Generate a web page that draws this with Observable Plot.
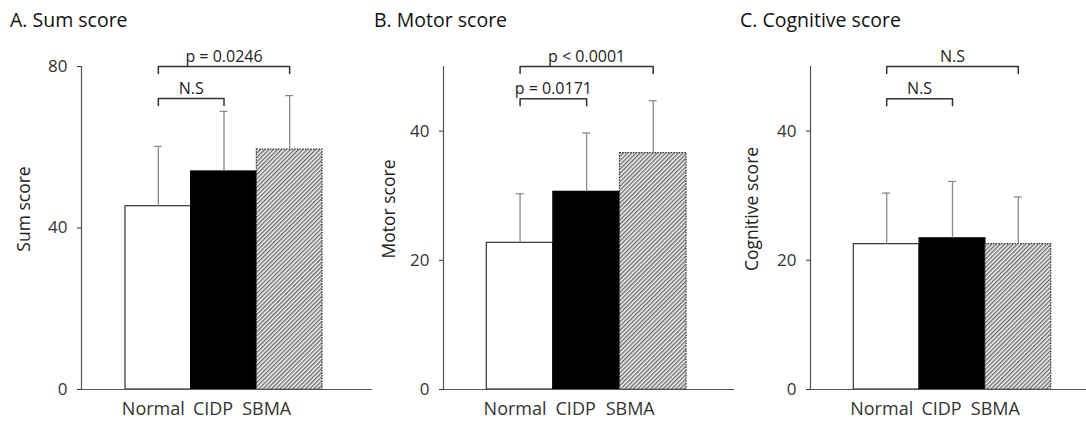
<!DOCTYPE html>
<html><head><meta charset="utf-8">
<script src="https://cdn.jsdelivr.net/npm/d3@7"></script>
<script src="https://cdn.jsdelivr.net/npm/@observablehq/plot@0.6"></script>
<style>
body{margin:0;background:#fff;font-family:"Open Sans",sans-serif;}
#chart{position:relative;width:1086px;height:421px;overflow:hidden;background:#fff;}
.panel{position:absolute;top:0;width:362px;height:421px;}
.title{position:absolute;top:10px;font-size:19.5px;line-height:19px;color:#111;white-space:nowrap;}
.panel svg{position:absolute;top:40px;left:0;overflow:visible;}
</style></head><body>
<svg width="0" height="0" style="position:absolute">
  <defs>
    <pattern id="hatch" patternUnits="userSpaceOnUse" width="3" height="3" patternTransform="rotate(45)">
      <rect width="3" height="3" fill="#f4f4f4"></rect>
      <line x1="0.75" y1="0" x2="0.75" y2="3" stroke="#505050" stroke-width="1.15"></line>
    </pattern>
  </defs>
</svg>
<div id="chart"></div>
<script>
// ---- data ----
const groups = ["Normal", "CIDP", "SBMA"];

const panelTitles = ["A. Sum score", "B. Motor score", "C. Cognitive score"];
const axisLabels = ["Sum score", "Motor score", "Cognitive score"];

const sumMean = [45.4, 54.0, 59.4];
const sumSD = [14.8, 14.9, 13.4];
const motorMean = [22.7, 30.6, 36.6];
const motorSD = [7.6, 9.1, 8.1];
const cogMean = [22.5, 23.4, 22.5];
const cogSD = [7.9, 8.8, 7.3];

const sumTicks = [0, 40, 80];
const motorTicks = [0, 20, 40];
const cogTicks = [0, 20, 40];
const sumMax = 80, motorMax = 50, cogMax = 50;

// comparisons: [from, to]
const compPairs = [["Normal", "CIDP"], ["Normal", "SBMA"]];
const sumCompLevel = [72.1, 80];
const sumCompLabel = ["N.S", "p = 0.0246"];
const motorCompLevel = [45.0, 50];
const motorCompLabel = ["p = 0.0171", "p < 0.0001"];
const cogCompLevel = [45.0, 50];
const cogCompLabel = ["N.S", "N.S"];

// ---- layout / style ----
const panels = [
  {left: 0, marginLeft: 81, range: [125, 322], mean: sumMean, sd: sumSD, ticks: sumTicks, max: sumMax, level: sumCompLevel, label: sumCompLabel, ylabelX: 24},
  {left: 362, marginLeft: 81, range: [124.3, 324], mean: motorMean, sd: motorSD, ticks: motorTicks, max: motorMax, level: motorCompLevel, label: motorCompLabel, ylabelX: 27},
  {left: 724, marginLeft: 86, range: [129.3, 326.7], mean: cogMean, sd: cogSD, ticks: cogTicks, max: cogMax, level: cogCompLevel, label: cogCompLabel, ylabelX: 28}
];
const barStyle = {
  Normal: {fill: "white", stroke: "#333", strokeWidth: 1.2},
  CIDP: {fill: "black", stroke: "black", strokeWidth: 1.2},
  SBMA: {fill: "url(#hatch)", stroke: "#333", strokeWidth: 1.2, strokeDasharray: "1.5,1.2"}
};
const labelShift = [-5, -11, -23];
const H = 381, MT = 26, MB = 32;

const chart = document.getElementById("chart");

panels.forEach((p, k) => {
  const div = document.createElement("div");
  div.className = "panel";
  div.style.left = p.left + "px";
  const t = document.createElement("div");
  t.className = "title";
  t.style.left = [10, 12, 16][k] + "px";
  t.textContent = panelTitles[k];
  div.appendChild(t);

  const rows = groups.map((g, i) => ({g, mean: p.mean[i], sd: p.sd[i]}));
  const bw = (p.range[1] - p.range[0]) / groups.length;
  const plotH = H - MT - MB;
  const drop = 7 * p.max / plotH;

  const bracketPts = [];
  compPairs.forEach(([a, b], j) => {
    const lv = p.level[j];
    bracketPts.push({id: j, g: a, v: lv - drop}, {id: j, g: a, v: lv}, {id: j, g: b, v: lv}, {id: j, g: b, v: lv - drop});
  });

  const compText = compPairs.map(([a, b], j) => {
    const ia = groups.indexOf(a), ib = groups.indexOf(b);
    const mid = (ia + ib) / 2;
    const isInt = Number.isInteger(mid);
    const g = groups[Math.ceil(mid)];
    return Plot.text([{g, v: p.level[j], s: p.label[j]}], {
      x: "g", y: "v", text: "s", dx: isInt ? 0 : -bw / 2, dy: -10,
      fontSize: 16, fill: "#222", lineAnchor: "middle"
    });
  });

  const svg = Plot.plot({
    width: 362, height: H,
    marginLeft: p.marginLeft, marginRight: 0, marginTop: MT, marginBottom: MB,
    style: {fontFamily: "Open Sans, sans-serif", fontSize: "16px", color: "#333", background: "transparent", overflow: "visible"},
    x: {domain: groups, range: p.range, padding: 0, axis: null, round: false},
    y: {domain: [0, p.max], axis: null},
    marks: [
      ...groups.map(g => Plot.barY(rows.filter(d => d.g === g), {x: "g", y: "mean", ...barStyle[g]})),
      Plot.frame({anchor: "left", stroke: "#555", strokeWidth: 1.2}),
      Plot.ruleY([0], {stroke: "#555", strokeWidth: 1.2, insetLeft: -4, insetRight: -10}),
      Plot.axisY({ticks: p.ticks, tickSize: 4, tickPadding: 10, fontSize: 17, label: null, color: "#333"}),
      Plot.ruleX(rows, {x: "g", y1: "mean", y2: d => d.mean + d.sd, stroke: "#8c8c8c", strokeWidth: 1.3}),
      Plot.tickY(rows, {x: "g", y: d => d.mean + d.sd, stroke: "#8c8c8c", strokeWidth: 1.3, inset: (bw - 8) / 2}),
      Plot.line(bracketPts, {x: "g", y: "v", z: "id", stroke: "#333", strokeWidth: 1.5}),
      ...compText,
      ...groups.map((g, i) => Plot.text([g], {x: d => d, frameAnchor: "bottom", dy: 19.5, dx: labelShift[i], fontSize: 18, fill: "#333", lineAnchor: "middle"})),
      Plot.text([axisLabels[k]], {frameAnchor: "left", rotate: -90, dx: p.ylabelX - p.marginLeft, dy: -19, fontSize: 17.5, fill: "#222", lineAnchor: "middle", textAnchor: "middle"})
    ]
  });
  div.appendChild(svg);
  chart.appendChild(div);
});
</script>
</body></html>
